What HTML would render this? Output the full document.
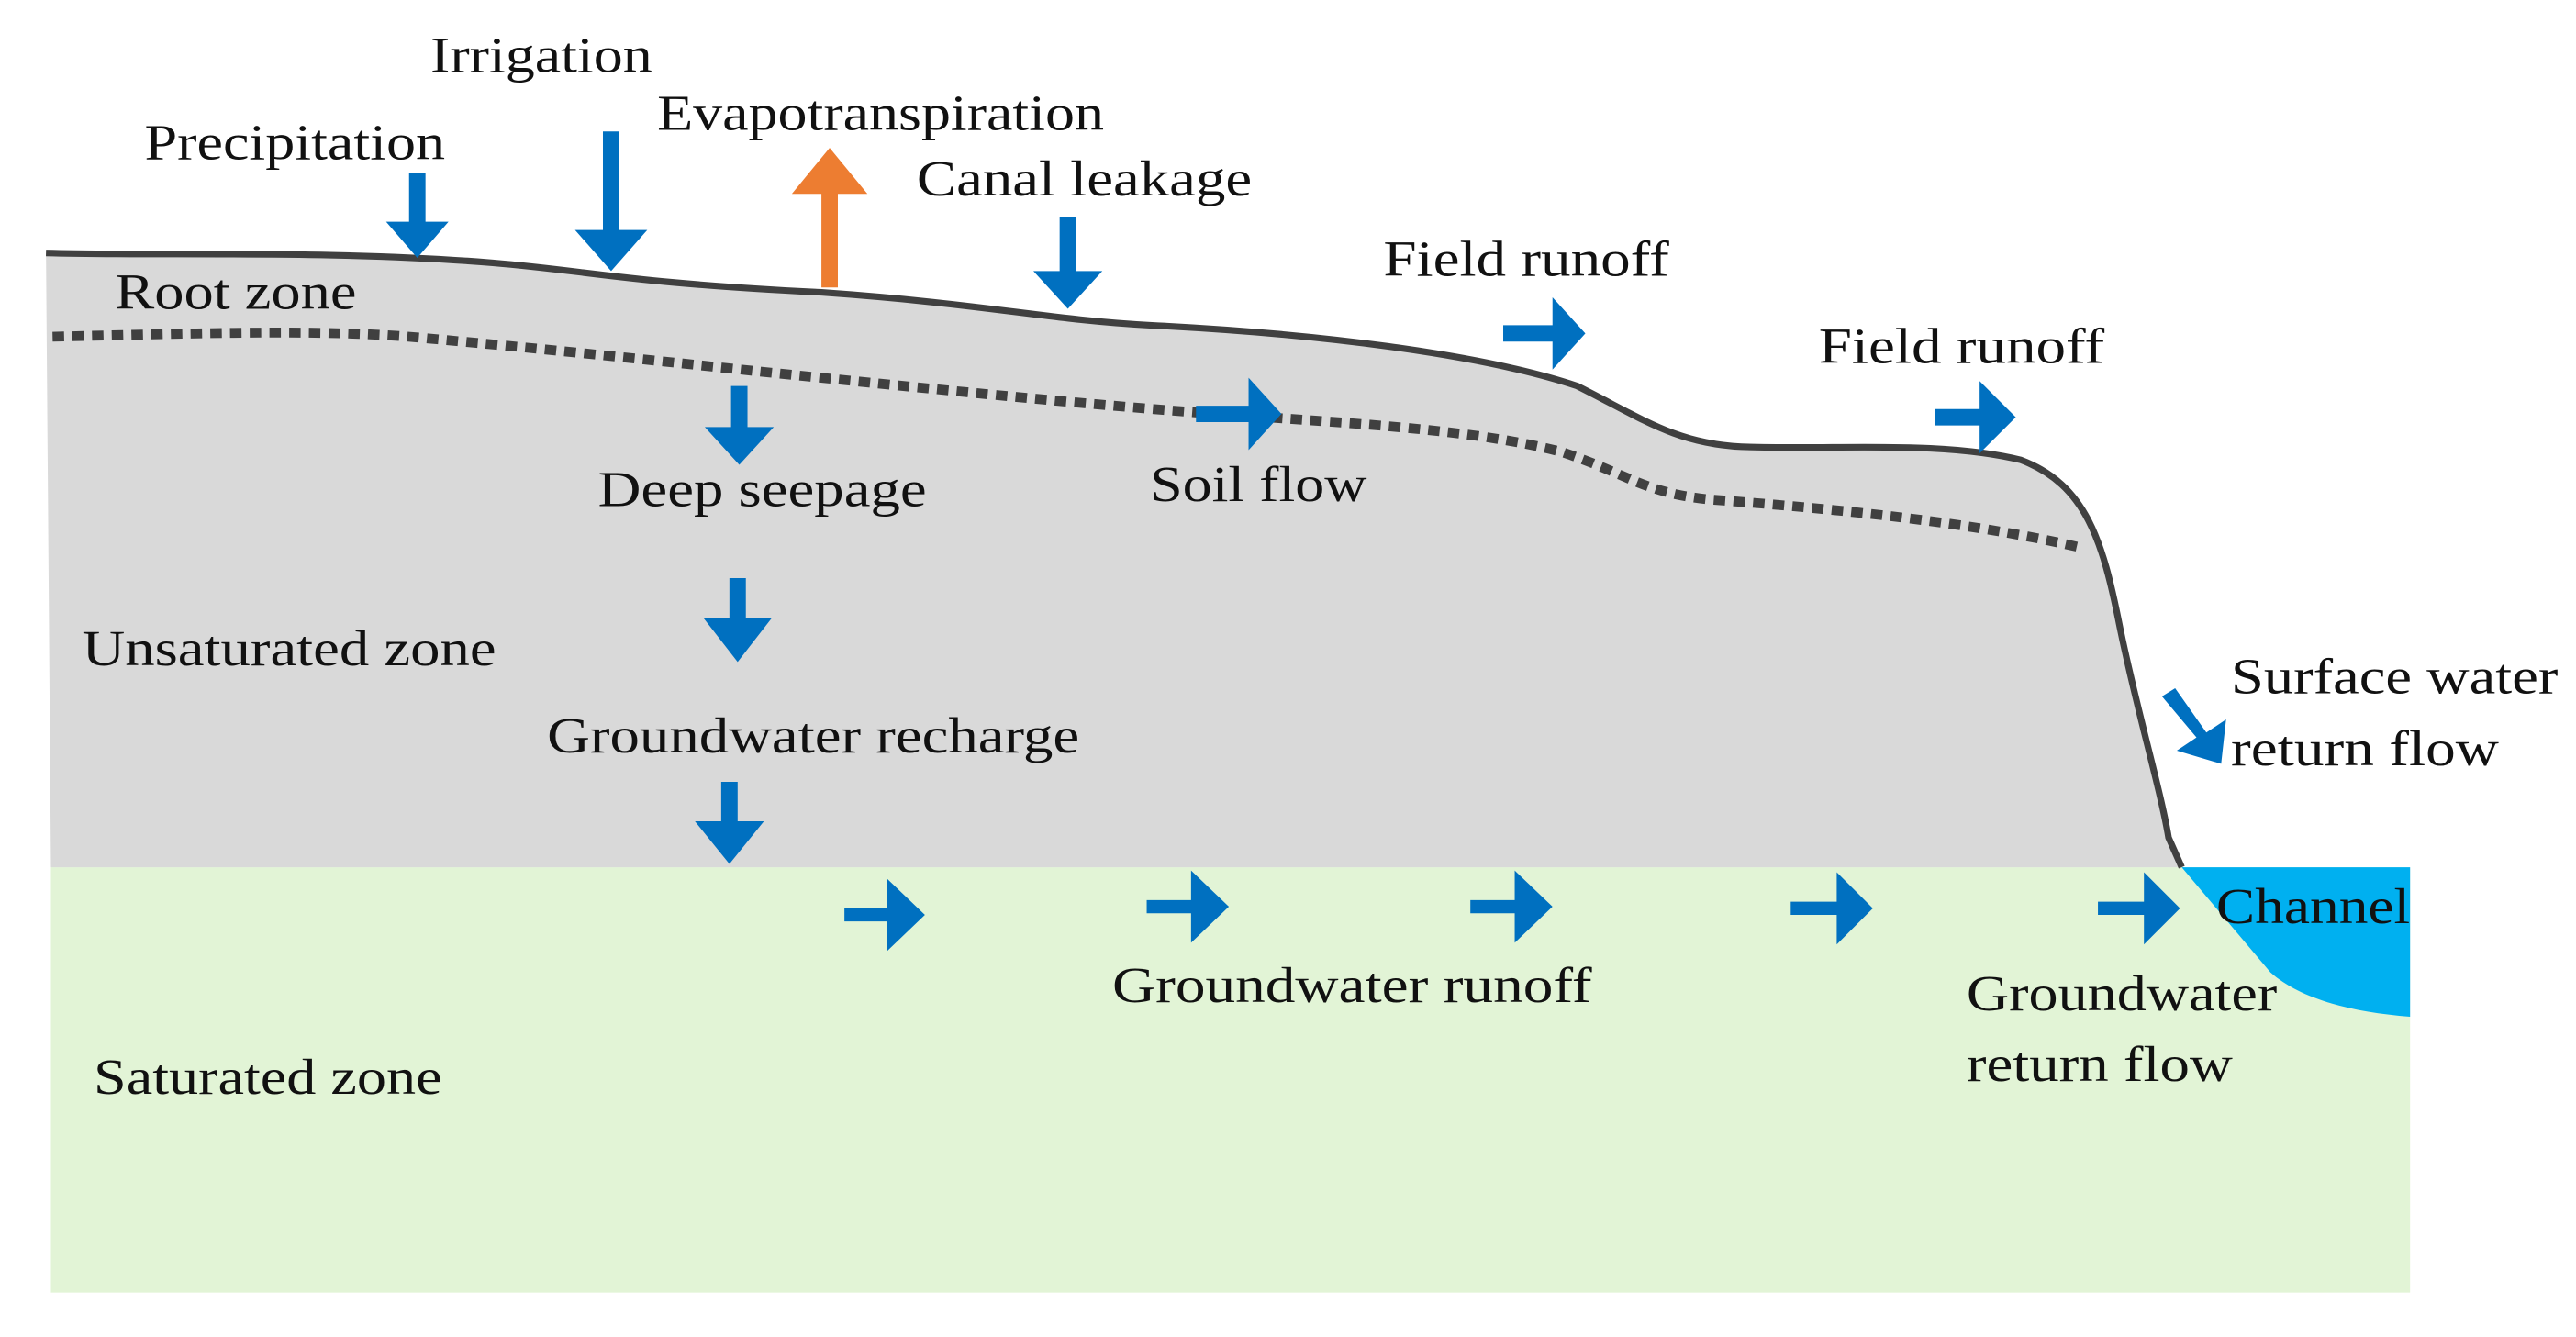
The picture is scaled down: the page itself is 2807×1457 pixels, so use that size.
<!DOCTYPE html>
<html><head><meta charset="utf-8"><style>
html,body{margin:0;padding:0;background:#fff;}
svg{display:block;}
text{font-family:"Liberation Serif",serif;font-size:31px;fill:#111;}
</style></head><body>
<svg width="2807" height="1457" viewBox="0 0 1568 814" preserveAspectRatio="none" xmlns="http://www.w3.org/2000/svg">
<rect width="1568" height="814" fill="#fff"/>
<rect x="31" y="528" width="1436" height="259" fill="#e2f4d6"/>
<path d="M28,154 C100,156 200,152 300,160 C360,165 380,172 500,178 C600,185 640,195 700,198 C800,203 900,215 960,235 C1000,255 1020,270 1060,272 C1120,274 1180,268 1230,280 C1270,295 1280,330 1290,380 C1300,430 1315,480 1320,510 L1328,528 L31,528 Z" fill="#d9d9d9"/>
<path d="M28,154 C100,156 200,152 300,160 C360,165 380,172 500,178 C600,185 640,195 700,198 C800,203 900,215 960,235 C1000,255 1020,270 1060,272 C1120,274 1180,268 1230,280 C1270,295 1280,330 1290,380 C1300,430 1315,480 1320,510 L1328,528" fill="none" stroke="#404040" stroke-width="4"/>
<path d="M1328,528 L1467,528 L1467,619 C1430,616 1400,608 1382,592 Z" fill="#00b0f0"/>
<path d="M32,205 C120,203 200,200 260,206 C360,215 420,222 500,230 C600,240 660,246 740,252 C830,258 900,262 950,275 C990,288 1000,300 1040,304 C1120,310 1200,318 1265,333" fill="none" stroke="#404040" stroke-width="6" stroke-dasharray="7 5"/>
<g fill="#0070c0">
<!-- down arrows -->
<path d="M249,105 h10 v30 h14 l-19,22 l-19,-22 h14 z"/>
<path d="M367,80 h10 v60 h17 l-22,25 l-22,-25 h17 z"/>
<path d="M645,132 h10 v33 h16 l-21,23 l-21,-23 h16 z"/>
<path d="M445,235 h10 v25 h16 l-21,23 l-21,-23 h16 z"/>
<path d="M444,352 h10 v24 h16 l-21,27 l-21,-27 h16 z"/>
<path d="M439,476 h10 v24 h16 l-21,26 l-21,-26 h16 z"/>
<!-- right arrows -->
<path d="M915,198 h30 v-17 l20,22 l-20,22 v-17 h-30 z"/>
<path d="M1178,249 h27 v-17 l22,22 l-22,22 v-17 h-27 z"/>
<path d="M728,247 h32 v-17 l20,22 l-20,22 v-17 h-32 z"/>
<path d="M514,553 h26 v-18 l23,22 l-23,22 v-18 h-26 z"/>
<path d="M698,548 h27 v-18 l23,22 l-23,22 v-18 h-27 z"/>
<path d="M895,548 h27 v-18 l23,22 l-23,22 v-18 h-27 z"/>
<path d="M1090,549 h28 v-18 l22,22 l-22,22 v-18 h-28 z"/>
<path d="M1277,549 h28 v-18 l22,22 l-22,22 v-18 h-28 z"/>
<!-- diagonal -->
<path d="M1316,424 l8,-5 l19,27 l12,-8 l-3,27 l-27,-8 l12,-8 z"/>
</g>
<path d="M500,175 v-57 h-18 l23,-28 l23,28 h-18 v57 z" fill="#ed7d31"/>
<text x="88" y="97" textLength="183" lengthAdjust="spacingAndGlyphs">Precipitation</text>
<text x="262" y="44" textLength="135" lengthAdjust="spacingAndGlyphs">Irrigation</text>
<text x="400" y="79" textLength="272" lengthAdjust="spacingAndGlyphs">Evapotranspiration</text>
<text x="558" y="119" textLength="204" lengthAdjust="spacingAndGlyphs">Canal leakage</text>
<text x="842" y="168" textLength="174" lengthAdjust="spacingAndGlyphs">Field runoff</text>
<text x="1107" y="221" textLength="174" lengthAdjust="spacingAndGlyphs">Field runoff</text>
<text x="70" y="188" textLength="147" lengthAdjust="spacingAndGlyphs">Root zone</text>
<text x="364" y="308" textLength="200" lengthAdjust="spacingAndGlyphs">Deep seepage</text>
<text x="700" y="305" textLength="132" lengthAdjust="spacingAndGlyphs">Soil flow</text>
<text x="50" y="405" textLength="252" lengthAdjust="spacingAndGlyphs">Unsaturated zone</text>
<text x="333" y="458" textLength="324" lengthAdjust="spacingAndGlyphs">Groundwater recharge</text>
<text x="1358" y="422" textLength="199" lengthAdjust="spacingAndGlyphs">Surface water</text>
<text x="1358" y="466" textLength="163" lengthAdjust="spacingAndGlyphs">return flow</text>
<text x="1349" y="562" textLength="118" lengthAdjust="spacingAndGlyphs">Channel</text>
<text x="677" y="610" textLength="292" lengthAdjust="spacingAndGlyphs">Groundwater runoff</text>
<text x="1197" y="615" textLength="189" lengthAdjust="spacingAndGlyphs">Groundwater</text>
<text x="1197" y="658" textLength="162" lengthAdjust="spacingAndGlyphs">return flow</text>
<text x="57" y="666" textLength="212" lengthAdjust="spacingAndGlyphs">Saturated zone</text>
</svg>
</body></html>
